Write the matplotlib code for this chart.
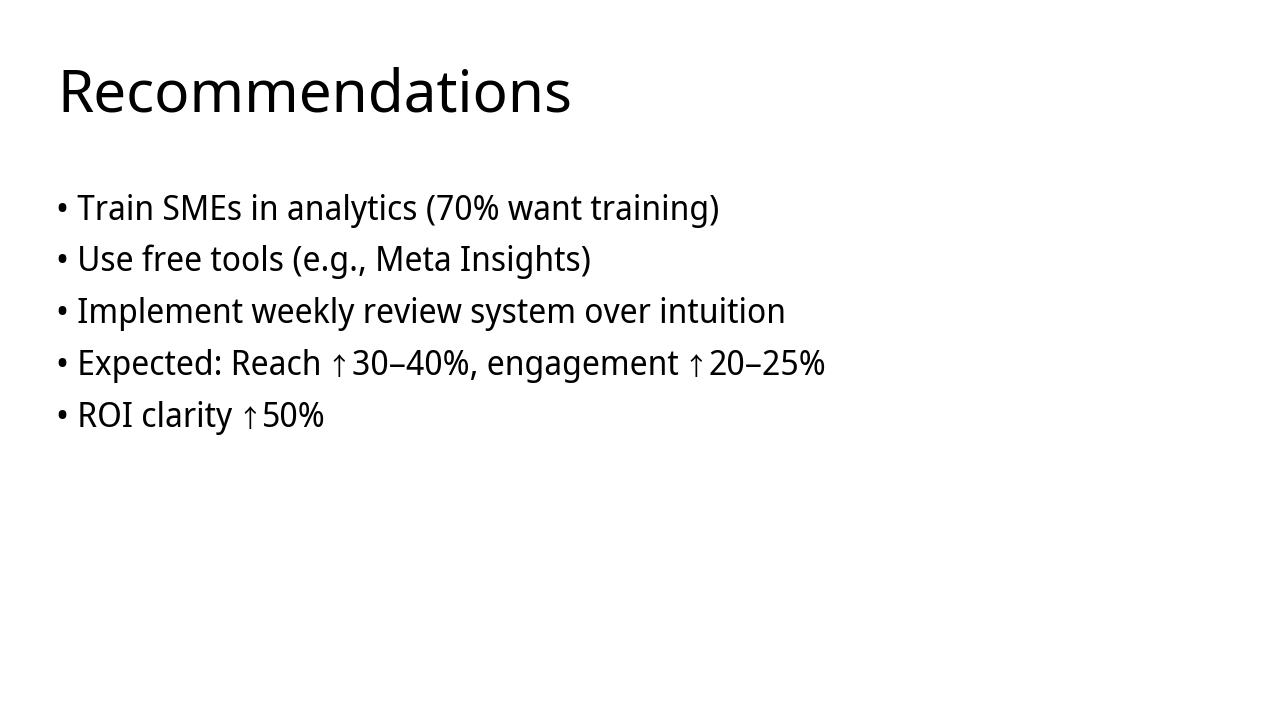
import os

import matplotlib
matplotlib.use("Agg")
from matplotlib import pyplot as plt
from matplotlib import font_manager

title = "Recommendations"
bullets = [
    "Train SMEs in analytics (70% want training)",
    "Use free tools (e.g., Meta Insights)",
    "Implement weekly review system over intuition",
    "Expected: Reach \u219130\u201340%, engagement \u219120\u201325%",
    "ROI clarity \u219150%",
]
ARROW = "\u2191"


def make_narrow_noto(width):
    # build a narrower static instance of the variable Noto Sans
    src = None
    for f in font_manager.fontManager.ttflist:
        if f.name == "Noto Sans" and "Italic" not in f.fname and "wdth" in f.fname:
            src = f.fname
            break
    if src is None:
        return None
    try:
        from fontTools.ttLib import TTFont
        from fontTools.varLib import instancer
    except ImportError:
        return None
    font = TTFont(src)
    inst = instancer.instantiateVariableFont(font, {"wdth": width, "wght": 400})
    name = "Noto Sans Narrow Body"
    for rec in inst["name"].names:
        if rec.nameID in (1, 4, 16):
            rec.string = name
        elif rec.nameID == 6:
            rec.string = name.replace(" ", "")
        elif rec.nameID in (2, 17):
            rec.string = "Regular"
    out = os.path.abspath("NotoSansNarrowBody.ttf")
    inst.save(out)
    font_manager.fontManager.addfont(out)
    return name


narrow = make_narrow_noto(91)
body_family = [narrow or 'Noto Sans', 'Noto Sans CJK SC', 'DejaVu Sans']
plt.rcParams['font.family'] = ['Noto Sans', 'Noto Sans CJK SC', 'DejaVu Sans']

fig = plt.figure(figsize=(12.8, 7.2), dpi=100)
fig.patch.set_facecolor("white")
renderer = fig.canvas.get_renderer()

W, H = 1280.0, 720.0
body_size = 24.7

# title
fig.text(57.5 / W, 1 - 111.5 / H, title, fontsize=42, va='baseline', ha='left', color='black')


def draw_piece(x_px, y_px, s, size):
    t = fig.text(x_px / W, 1 - y_px / H, s, fontsize=size, va='baseline', ha='left',
                 color='black', family=body_family)
    bb = t.get_window_extent(renderer)
    return bb.x1


# bullet lines, arrows drawn a bit smaller like the reference
y0 = 219.5
step = 51.8
for i, line in enumerate(bullets):
    y = y0 + i * step
    x = 56
    parts = ("\u2022 " + line).split(ARROW)
    for j, part in enumerate(parts):
        if j > 0:
            x = draw_piece(x - 3, y, ARROW, body_size * 0.72)
        if part:
            x = draw_piece(x, y, part, body_size)

fig.savefig("out.png", dpi=100, facecolor="white")
